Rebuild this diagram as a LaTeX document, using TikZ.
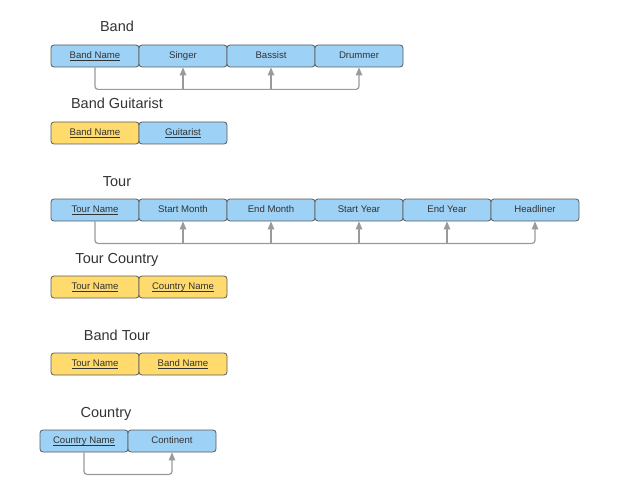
\documentclass[tikz,border=0pt]{standalone}
\usepackage{fontspec}
\setmainfont{Liberation Sans}
\usetikzlibrary{arrows.meta}
\definecolor{eblue}{HTML}{9DD1F5}
\definecolor{eyellow}{HTML}{FFDB6E}
\definecolor{eborder}{HTML}{5B5B5B}
\definecolor{econn}{HTML}{9A9A9A}
\definecolor{etext}{HTML}{333333}
\newcommand\keyul[1]{\underline{\smash{#1}}}
\begin{document}
\begin{tikzpicture}[x=1pt,y=-1pt,
 attr/.style={draw=eborder,line width=0.8pt,rounded corners=3pt,minimum width=88pt,minimum height=22pt,inner sep=0pt,font=\fontsize{9.6}{11}\selectfont,text=etext,text height=7pt,text depth=2pt},
 battr/.style={attr,fill=eblue},
 yattr/.style={attr,fill=eyellow},
 title/.style={font=\fontsize{14.5}{17}\selectfont,text=etext,anchor=base,inner sep=0pt},
 conn/.style={draw=econn,line width=1.2pt,rounded corners=3pt},
 fd/.style={conn,-{Triangle[length=8pt,width=6.5pt]}}]
\useasboundingbox (0,0) rectangle (633,495);

% Band
\node[title] (tband) at (117,31.2) {Band};
\node[battr] (b1) at (95,56) {\keyul{Band Name}};
\node[battr] (b2) at (183,56) {Singer};
\node[battr] (b3) at (271,56) {Bassist};
\node[battr] (b4) at (359,56) {Drummer};
\draw[fd] (b1.south) -- ++(0,22) coordinate (bj) -| (b4.south);
\draw[fd] (b2.south |- bj) -- (b2.south);
\draw[fd] (b3.south |- bj) -- (b3.south);

% Band Guitarist
\node[title] (tbg) at (117,108.2) {Band Guitarist};
\node[yattr] (g1) at (95,133) {\keyul{Band Name}};
\node[battr] (g2) at (183,133) {\keyul{Guitarist}};

% Tour
\node[title] (ttour) at (117,186.2) {Tour};
\node[battr] (t1) at (95,210) {\keyul{Tour Name}};
\node[battr] (t2) at (183,210) {Start Month};
\node[battr] (t3) at (271,210) {End Month};
\node[battr] (t4) at (359,210) {Start Year};
\node[battr] (t5) at (447,210) {End Year};
\node[battr] (t6) at (535,210) {Headliner};
\draw[fd] (t1.south) -- ++(0,22) coordinate (tj) -| (t6.south);
\draw[fd] (t2.south |- tj) -- (t2.south);
\draw[fd] (t3.south |- tj) -- (t3.south);
\draw[fd] (t4.south |- tj) -- (t4.south);
\draw[fd] (t5.south |- tj) -- (t5.south);

% Tour Country
\node[title] (ttc) at (117,263.2) {Tour Country};
\node[yattr] (tc1) at (95,287) {\keyul{Tour Name}};
\node[yattr] (tc2) at (183,287) {\keyul{Country Name}};

% Band Tour
\node[title] (tbt) at (117,340.2) {Band Tour};
\node[yattr] (bt1) at (95,364) {\keyul{Tour Name}};
\node[yattr] (bt2) at (183,364) {\keyul{Band Name}};

% Country
\node[title] (tc) at (106,417.2) {Country};
\node[battr] (c1) at (84,441) {\keyul{Country Name}};
\node[battr] (c2) at (172,441) {Continent};
\draw[fd] (c1.south) -- ++(0,22) -| (c2.south);
\end{tikzpicture}
\end{document}
